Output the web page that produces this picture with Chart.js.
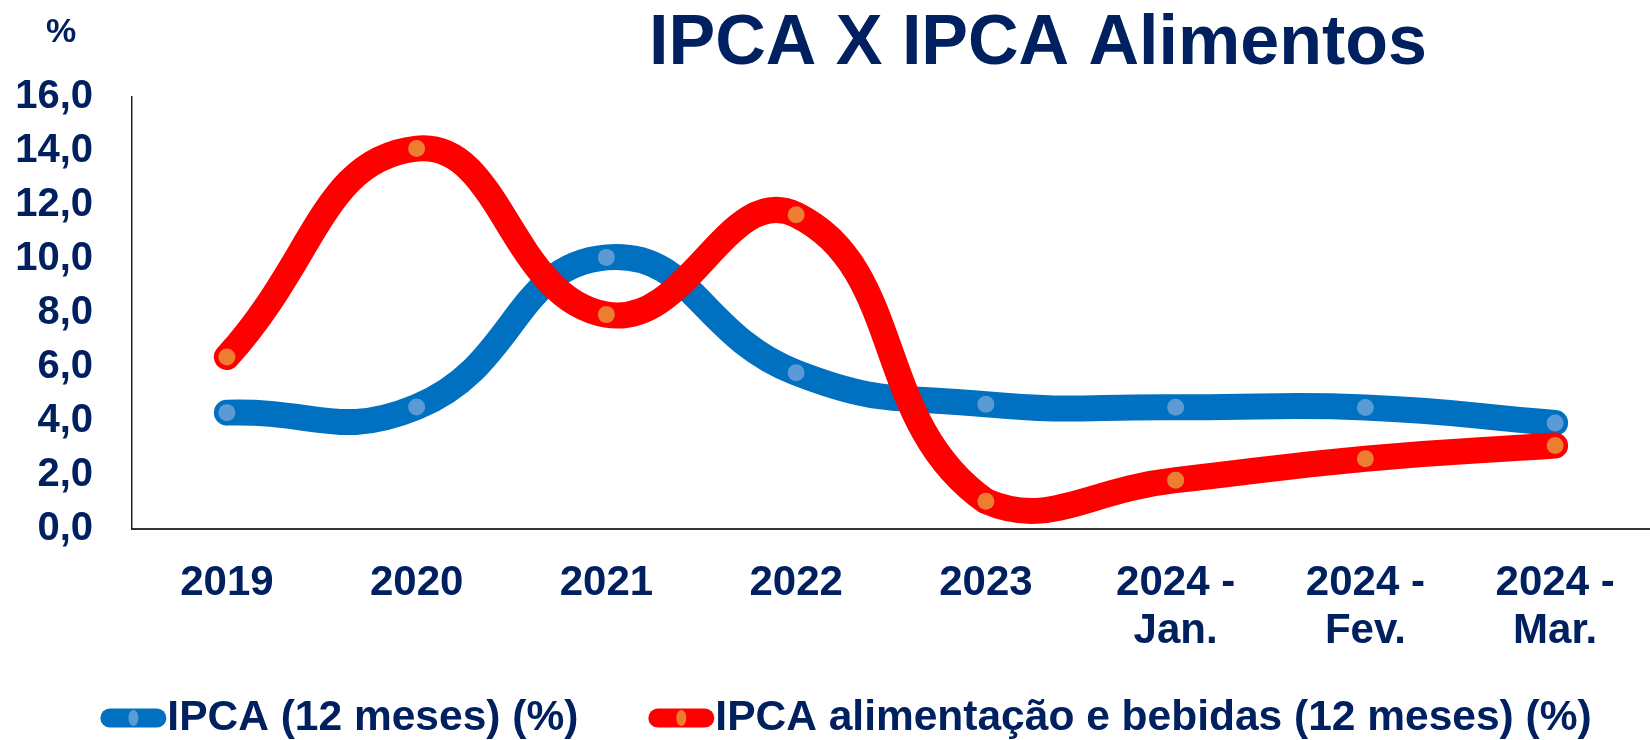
<!DOCTYPE html>
<html>
<head>
<meta charset="utf-8">
<script src="https://cdn.jsdelivr.net/npm/chart.js@4.4.1/dist/chart.umd.min.js"></script>
<style>
    html, body { margin: 0; padding: 0; background: #ffffff; }
    #chartBox { width: 1650px; height: 740px; }
</style>
</head>
<body>
<div id="chartBox"><canvas id="ipcaChart"></canvas></div>
<script>
const periodLabels = ['2019', '2020', '2021', '2022', '2023', ['2024 -', 'Jan.'], ['2024 -', 'Fev.'], ['2024 -', 'Mar.']];

const ipcaValues = [4.31, 4.52, 10.06, 5.79, 4.62, 4.51, 4.50, 3.93];

const ipcaFoodValues = [6.37, 14.09, 7.94, 11.64, 1.03, 1.81, 2.60, 3.09];

const seriesNames = ['IPCA (12 meses) (%)', 'IPCA alimentação e bebidas (12 meses) (%)'];

const yTickValues = [0, 2, 4, 6, 8, 10, 12, 14, 16];

const chartTitle = 'IPCA X IPCA Alimentos';
const unitLabel = '%';

const navy = '#002060';
const fontFamily = 'Arial, "Liberation Sans", sans-serif';

// title, unit and legend are drawn by hand
const textPlugin = {
    id: 'textPlugin',
    afterDraw: function (chart) {
        var ctx = chart.ctx;
        ctx.save();
        ctx.fillStyle = navy;
        ctx.textBaseline = 'middle';

        ctx.font = 'bold 70px ' + fontFamily;
        ctx.textAlign = 'center';
        ctx.fillText(chartTitle, 1038, 45);

        ctx.font = 'bold 34px ' + fontFamily;
        ctx.fillText(unitLabel, 61, 33);

        // legend
        ctx.font = 'bold 42.5px ' + fontFamily;
        ctx.textAlign = 'left';
        var markerWidth = 66;
        var textGap = 1;
        var itemGap = 70;
        var items = chart.data.datasets.slice().sort(function (a, b) { return b.order - a.order; });
        var total = 0;
        items.forEach(function (ds, i) {
            total += markerWidth + textGap + ctx.measureText(ds.label).width;
            if (i > 0) total += itemGap;
        });
        var x = 846 - total / 2;
        var y = 718;
        items.forEach(function (ds) {
            ctx.strokeStyle = ds.borderColor;
            ctx.lineWidth = 19;
            ctx.lineCap = 'round';
            ctx.beginPath();
            ctx.moveTo(x + 9.5, y);
            ctx.lineTo(x + markerWidth - 9.5, y);
            ctx.stroke();
            ctx.fillStyle = ds.pointBackgroundColor;
            ctx.beginPath();
            ctx.ellipse(x + 33, y, 5, 8, 0, 0, Math.PI * 2);
            ctx.fill();
            ctx.fillStyle = navy;
            ctx.fillText(ds.label, x + markerWidth + textGap, y);
            x += markerWidth + textGap + ctx.measureText(ds.label).width + itemGap;
        });
        ctx.restore();
    }
};

function initChart() {

    var chartControl = document.getElementById('ipcaChart');

    new Chart(chartControl, {
        type: 'line',
        data: {
            labels: periodLabels,
            datasets: [
                {
                    label: seriesNames[0],
                    data: ipcaValues,
                    borderColor: '#0070C0',
                    backgroundColor: '#0070C0',
                    pointBackgroundColor: '#5B9BD5',
                    pointBorderWidth: 0,
                    pointRadius: 8.5,
                    borderWidth: 26,
                    borderCapStyle: 'round',
                    borderJoinStyle: 'round',
                    tension: 0.47,
                    clip: false,
                    order: 2
                },
                {
                    label: seriesNames[1],
                    data: ipcaFoodValues,
                    borderColor: '#FF0000',
                    backgroundColor: '#FF0000',
                    pointBackgroundColor: '#ED7D31',
                    pointBorderWidth: 0,
                    pointRadius: 8.5,
                    borderWidth: 26,
                    borderCapStyle: 'round',
                    borderJoinStyle: 'round',
                    tension: 0.47,
                    clip: false,
                    order: 1
                }
            ]
        },
        options: {
            responsive: true,
            maintainAspectRatio: false,
            animation: false,
            layout: {
                autoPadding: false,
                padding: { top: 97, left: 0, right: 0, bottom: 0 }
            },
            scales: {
                x: {
                    offset: true,
                    grid: { display: false, drawTicks: false },
                    border: { display: true, color: '#333333', width: 2 },
                    ticks: {
                        color: navy,
                        font: { family: fontFamily, size: 42, weight: 'bold', lineHeight: 1.15 },
                        padding: 30,
                        maxRotation: 0,
                        autoSkip: false
                    },
                    afterFit: function (scale) {
                        scale.height = 211;
                        scale.paddingLeft = 0;
                        scale.paddingRight = 0;
                    }
                },
                y: {
                    min: 0,
                    max: 16,
                    grid: { display: false, drawTicks: false },
                    border: { display: true, color: '#222222', width: 1.5 },
                    afterBuildTicks: function (scale) {
                        scale.ticks = yTickValues.map(function (v) { return { value: v }; });
                    },
                    ticks: {
                        color: navy,
                        font: { family: fontFamily, size: 40, weight: 'bold' },
                        padding: 39,
                        callback: function (value) { return value.toFixed(1).replace('.', ','); }
                    },
                    afterFit: function (scale) { scale.width = 132; }
                }
            },
            plugins: {
                legend: { display: false },
                title: { display: false },
                tooltip: { enabled: false }
            }
        },
        plugins: [textPlugin]
    });
}

initChart();
</script>
</body>
</html>
